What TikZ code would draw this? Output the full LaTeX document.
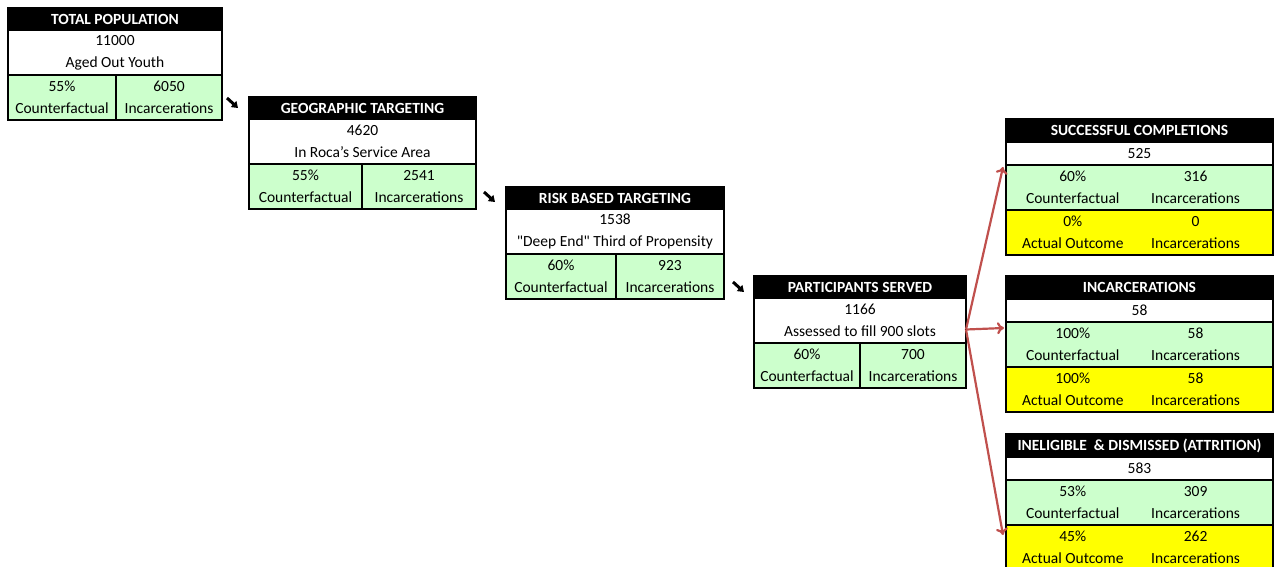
\documentclass[tikz,border=0pt]{standalone}
\usepackage{fontspec}
\setmainfont{Carlito}
\usepackage{xcolor}
\usepackage{tikz}
\usetikzlibrary{arrows, arrows.meta, positioning, calc}
\definecolor{cellgreen}{HTML}{CCFFCC}
\definecolor{cellyellow}{HTML}{FFFF00}
\definecolor{forkred}{HTML}{C0504D}
\tikzstyle{head}=[fill=black,text=white,font=\bfseries\fontsize{15.5}{17}\selectfont,inner sep=0pt,outer sep=0pt,anchor=north west,minimum height=22]
\tikzstyle{cell}=[draw=black,line width=1.2pt,inner sep=0pt,outer sep=0pt,anchor=north west,align=center,minimum height=45]
\tikzstyle{row}=[draw=black,line width=1.2pt,inner sep=0pt,outer sep=0pt,anchor=north west,minimum height=23]
\tikzstyle{txt}=[inner sep=0pt,align=center]
\tikzstyle{frame}=[draw=black,line width=2pt]
\tikzstyle{hop}=[line width=3pt,-{Triangle[length=6pt,width=8pt]}]
\tikzstyle{fork}=[forkred,line width=2.2pt,-{To[length=7pt,width=12pt]}]

\begin{document}
\begin{tikzpicture}[x=1pt,y=-1pt,font=\fontsize{15.5}{22}\selectfont]
    \useasboundingbox (0,0) rectangle (1276,567);

    % total population
    \node[head,minimum width=214] (pop) at (8,8) {TOTAL POPULATION};
    \node[cell,fill=white,minimum width=214] (pop-n) at (pop.south west) {11000\\Aged Out Youth};
    \node[cell,fill=cellgreen,minimum width=108] (pop-cf) at (pop-n.south west) {55\%\\Counterfactual};
    \node[cell,fill=cellgreen,minimum width=106] (pop-inc) at (pop-cf.north east) {6050\\Incarcerations};
    \draw[frame] (pop.north west) rectangle (pop-inc.south east);

    % geographic targeting
    \node[head,minimum width=227] (geo) at (249,97) {GEOGRAPHIC TARGETING};
    \node[cell,fill=white,minimum width=227] (geo-n) at (geo.south west) {4620\\In Roca's Service Area};
    \node[cell,fill=cellgreen,minimum width=113] (geo-cf) at (geo-n.south west) {55\%\\Counterfactual};
    \node[cell,fill=cellgreen,minimum width=114] (geo-inc) at (geo-cf.north east) {2541\\Incarcerations};
    \draw[frame] (geo.north west) rectangle (geo-inc.south east);

    % risk based targeting
    \node[head,minimum width=218] (risk) at (506,187) {RISK BASED TARGETING};
    \node[cell,fill=white,minimum width=218] (risk-n) at (risk.south west) {1538\\\textquotedbl Deep End\textquotedbl{} Third of Propensity};
    \node[cell,fill=cellgreen,minimum width=110] (risk-cf) at (risk-n.south west) {60\%\\Counterfactual};
    \node[cell,fill=cellgreen,minimum width=108] (risk-inc) at (risk-cf.north east) {923\\Incarcerations};
    \draw[frame] (risk.north west) rectangle (risk-inc.south east);

    % participants served
    \node[head,minimum width=212] (part) at (754,276) {PARTICIPANTS SERVED};
    \node[cell,fill=white,minimum width=212] (part-n) at (part.south west) {1166\\Assessed to fill 900 slots};
    \node[cell,fill=cellgreen,minimum width=106] (part-cf) at (part-n.south west) {60\%\\Counterfactual};
    \node[cell,fill=cellgreen,minimum width=106] (part-inc) at (part-cf.north east) {700\\Incarcerations};
    \draw[frame] (part.north west) rectangle (part-inc.south east);

    % successful completions
    \node[head,minimum width=267,minimum height=23] (succ) at (1006,119) {SUCCESSFUL COMPLETIONS};
    \node[row,fill=white,minimum width=267] (succ-n) at (succ.south west) {525};
    \node[row,fill=cellgreen,minimum width=267,minimum height=45] (succ-cf) at (succ-n.south west) {};
    \node[row,fill=cellyellow,minimum width=267,minimum height=45] (succ-ao) at (succ-cf.south west) {};
    \node[txt] at ($(succ-cf.west)!0.25!(succ-cf.east)$) {60\%\\Counterfactual};
    \node[txt] at ($(succ-cf.west)!0.71!(succ-cf.east)$) {316\\Incarcerations};
    \node[txt] at ($(succ-ao.west)!0.25!(succ-ao.east)$) {0\%\\Actual Outcome};
    \node[txt] at ($(succ-ao.west)!0.71!(succ-ao.east)$) {0\\Incarcerations};
    \draw[frame] (succ.north west) rectangle (succ-ao.south east);

    % incarcerations
    \node[head,minimum width=267,minimum height=23] (inc) at (1006,276) {INCARCERATIONS};
    \node[row,fill=white,minimum width=267] (inc-n) at (inc.south west) {58};
    \node[row,fill=cellgreen,minimum width=267,minimum height=45] (inc-cf) at (inc-n.south west) {};
    \node[row,fill=cellyellow,minimum width=267,minimum height=45] (inc-ao) at (inc-cf.south west) {};
    \node[txt] at ($(inc-cf.west)!0.25!(inc-cf.east)$) {100\%\\Counterfactual};
    \node[txt] at ($(inc-cf.west)!0.71!(inc-cf.east)$) {58\\Incarcerations};
    \node[txt] at ($(inc-ao.west)!0.25!(inc-ao.east)$) {100\%\\Actual Outcome};
    \node[txt] at ($(inc-ao.west)!0.71!(inc-ao.east)$) {58\\Incarcerations};
    \draw[frame] (inc.north west) rectangle (inc-ao.south east);

    % attrition
    \node[head,minimum width=267,minimum height=23] (attr) at (1006,434) {INELIGIBLE \ \& DISMISSED (ATTRITION)};
    \node[row,fill=white,minimum width=267] (attr-n) at (attr.south west) {583};
    \node[row,fill=cellgreen,minimum width=267,minimum height=45] (attr-cf) at (attr-n.south west) {};
    \node[row,fill=cellyellow,minimum width=267,minimum height=45] (attr-ao) at (attr-cf.south west) {};
    \node[txt] at ($(attr-cf.west)!0.25!(attr-cf.east)$) {53\%\\Counterfactual};
    \node[txt] at ($(attr-cf.west)!0.71!(attr-cf.east)$) {309\\Incarcerations};
    \node[txt] at ($(attr-ao.west)!0.25!(attr-ao.east)$) {45\%\\Actual Outcome};
    \node[txt] at ($(attr-ao.west)!0.71!(attr-ao.east)$) {262\\Incarcerations};
    \draw[frame] (attr.north west) rectangle (attr-ao.south east);

    % small step arrows
    \draw[hop] ($(geo.north west)+(-22,1)$) -- ($(geo.north west)+(-11,11)$);
    \draw[hop] ($(risk.north west)+(-22,5)$) -- ($(risk.north west)+(-11,15)$);
    \draw[hop] ($(part.north west)+(-21,6)$) -- ($(part.north west)+(-10,16)$);

    % fork to the outcomes
    \coordinate (split) at ($(part-n.east)+(0,9)$);
    \draw[fork] (split) -- ($(succ-cf.north west)+(-3,2)$);
    \draw[fork] (split) -- ($(inc-cf.north west)+(-2,6)$);
    \draw[fork] (split) -- ($(attr-ao.north west)+(-3,10)$);
\end{tikzpicture}
\end{document}
